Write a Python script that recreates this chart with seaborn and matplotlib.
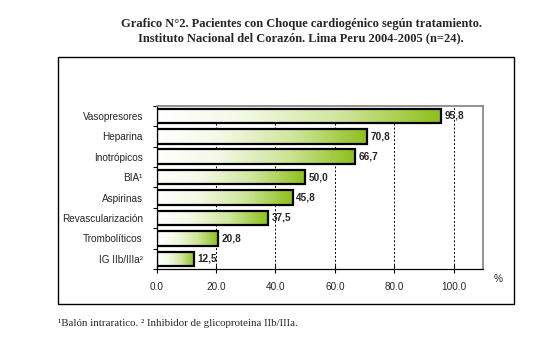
import numpy as np
import pandas as pd
import seaborn as sns
import matplotlib.pyplot as plt
from matplotlib.patches import Rectangle
from matplotlib.colors import LinearSegmentedColormap

# datos del grafico
tratamientos = ['Vasopresores', 'Heparina', 'Inotrópicos', 'BIA¹', 'Aspirinas',
                'Revascularización', 'Trombolíticos', 'IG IIb/IIIa²']
porcentajes = [95.8, 70.8, 66.7, 50.0, 45.8, 37.5, 20.8, 12.5]
x_ticks = [0, 20, 40, 60, 80, 100]

titulo = ('Grafico N°2. Pacientes con Choque cardiogénico según tratamiento.\n'
          'Instituto Nacional del Corazón. Lima Peru 2004-2005 (n=24).')
nota = '¹Balón intraratico. ² Inhibidor de glicoproteina IIb/IIIa.'


def grafico():
    sns.set_style('white')
    plt.rcParams['font.family'] = ['Liberation Sans', 'DejaVu Sans']

    df = pd.DataFrame({'tratamiento': tratamientos, 'pct': porcentajes})

    fig = plt.figure(figsize=(5.54, 3.46), dpi=100)
    ax = fig.add_axes([0.2829, 0.2225, 0.5895, 0.472])

    sns.barplot(data=df, x='pct', y='tratamiento', orient='h', width=0.71,
                color='white', edgecolor='black', linewidth=1.6, ax=ax, zorder=3)

    # relleno degradado blanco -> verde
    cmap = LinearSegmentedColormap.from_list(
        'verde', [(0, '#ffffff'), (0.3, '#f3f9e6'), (0.65, '#cfe59a'), (1, '#8dbf1a')])
    grad = np.linspace(0, 1, 256).reshape(1, -1)
    for p in ax.patches:
        x0, y0 = p.get_x(), p.get_y()
        w, h = p.get_width(), p.get_height()
        im = ax.imshow(grad, cmap=cmap, extent=[x0, x0 + w, y0 + h, y0],
                       aspect='auto', zorder=2, interpolation='bilinear')
        im.set_clip_path(p)
        p.set_facecolor('none')

    for i, v in enumerate(porcentajes):
        ax.text(v + 1.2, i, f'{v:.1f}'.replace('.', ','), va='center', ha='left',
                fontsize=7.2, fontweight='bold', zorder=4)

    ax.set_xlim(0, 110)
    ax.set_ylim(7.5, -0.5)
    ax.set_xticks(x_ticks)
    ax.set_xticklabels([f'{t:.1f}' for t in x_ticks], fontsize=7.2)
    ax.set_xlabel('')
    ax.set_ylabel('')
    ax.tick_params(axis='y', length=0, pad=10, labelsize=7.2)
    ax.set_yticks(np.arange(-0.5, 8, 1), minor=True)
    ax.tick_params(axis='y', which='minor', left=True, length=3, width=0.8, color='black')
    ax.tick_params(axis='x', bottom=True, direction='inout', length=6, width=0.8,
                   color='black', pad=6)

    for t in x_ticks[1:]:
        ax.axvline(t, color='black', lw=0.7, ls=(0, (2, 2)), zorder=1)

    for s in ['left', 'bottom']:
        ax.spines[s].set_color('black')
        ax.spines[s].set_linewidth(0.9)
    for s in ['top', 'right']:
        ax.spines[s].set_color('#808080')
        ax.spines[s].set_linewidth(1.2)

    fig.text(498 / 554, 1 - 279 / 346, '%', fontsize=7.2, ha='center', va='center')

    fig.patches.append(Rectangle((58 / 554, 1 - 304 / 346), 456 / 554, 247 / 346,
                                 transform=fig.transFigure, fill=False,
                                 edgecolor='black', lw=1.0))

    fig.text(301 / 554, 1 - 31 / 346, titulo, ha='center', va='center',
             family='Liberation Serif', fontweight='bold', fontsize=9,
             linespacing=1.2)
    fig.text(58 / 554, 1 - 323 / 346, nota, ha='left', va='center',
             family='Liberation Serif', fontsize=7.8)

    fig.savefig('out.png', dpi=100)


def main():
    grafico()


if __name__ == '__main__':
    main()
